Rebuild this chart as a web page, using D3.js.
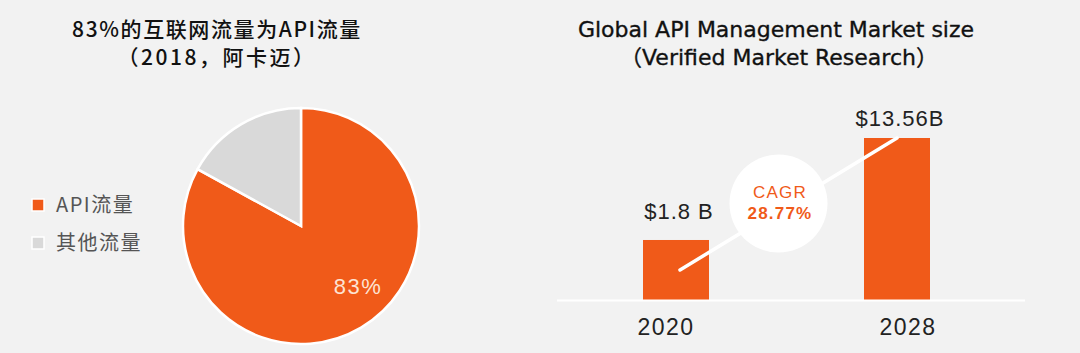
<!DOCTYPE html>
<html lang="zh">
<head>
<meta charset="UTF-8">
<script src="https://cdnjs.cloudflare.com/ajax/libs/d3/7.8.5/d3.min.js"></script>
<style>
  body { margin: 0; background: #f2f2f2; }
  svg { display: block; }
  text { font-family: "Liberation Sans", "Noto Sans CJK SC", sans-serif; }
  .cjk { font-family: "Noto Sans CJK SC", "Liberation Sans", sans-serif; }
  .wide { font-family: "DejaVu Sans", "Noto Sans CJK SC", sans-serif; }
</style>
</head>
<body>
<svg width="1080" height="353"></svg>
<script>
  // pie data
  const shareNames = ['API流量', '其他流量'];
  const shareValues = [83, 17];
  const shareColors = ['#f05a19', '#d9d9d9'];

  // bar data
  const years = ['2020', '2028'];
  const marketValues = [1.8, 13.56];
  const marketLabels = ['$1.8 B', '$13.56B'];
  const cagrLines = ['CAGR', '28.77%'];

  const orange = '#f05a19';
  const svg = d3.select('svg');

  // ---- left: pie ----
  svg.append('text').attr('class', 'cjk')
    .attr('x', 217).attr('y', 37).attr('text-anchor', 'middle')
    .attr('font-size', 21).attr('font-weight', 500).attr('fill', '#111')
    .attr('letter-spacing', 1.6)
    .text('83%的互联网流量为API流量');
  svg.append('text').attr('class', 'cjk')
    .attr('x', 217).attr('y', 65).attr('text-anchor', 'middle')
    .attr('font-size', 21).attr('font-weight', 500).attr('fill', '#111')
    .attr('letter-spacing', 2.5)
    .text('（2018，阿卡迈）');

  const pieData = d3.pie().sort(null)(shareValues);
  const radius = 118;
  const arc = d3.arc().innerRadius(0).outerRadius(radius);
  const pieG = svg.append('g').attr('transform', 'translate(301,226)');

  pieG.selectAll('path')
    .data(pieData)
    .enter().append('path')
    .attr('d', arc)
    .attr('fill', (d, i) => shareColors[i])
    .attr('stroke', '#fff')
    .attr('stroke-width', 2.5);

  pieG.append('text')
    .attr('x', 57).attr('y', 68).attr('text-anchor', 'middle')
    .attr('font-size', 22).attr('fill', '#fde3d2')
    .attr('letter-spacing', 1.5)
    .text(shareValues[0] + '%');

  const legend = svg.append('g').attr('transform', 'translate(32,199)');
  const legendItems = legend.selectAll('g')
    .data(shareNames)
    .enter().append('g')
    .attr('transform', (d, i) => `translate(0, ${i * 38})`);
  legendItems.append('rect')
    .attr('width', 12).attr('height', 12)
    .attr('fill', (d, i) => shareColors[i])
    .attr('stroke', '#fff').attr('stroke-width', 1.5);
  legendItems.append('text').attr('class', 'cjk')
    .attr('x', 24).attr('y', 13)
    .attr('font-size', 20).attr('fill', '#555')
    .attr('letter-spacing', 1.5)
    .text(d => d);

  // ---- right: bars ----
  svg.append('text').attr('class', 'wide')
    .attr('x', 776).attr('y', 37).attr('text-anchor', 'middle')
    .attr('font-size', 22).attr('fill', '#111')
    .attr('stroke', '#111').attr('stroke-width', 0.35)
    .text('Global API Management Market size');
  svg.append('text').attr('class', 'wide')
    .attr('x', 779).attr('y', 65).attr('text-anchor', 'middle')
    .attr('font-size', 22).attr('fill', '#111')
    .attr('stroke', '#111').attr('stroke-width', 0.35)
    .text('（Verified Market Research）');

  const barW = 66;
  const x = d3.scalePoint().domain(years).range([676, 897]);
  const y = d3.scaleLinear().domain([-5.12, 13.56]).range([300, 138]);

  svg.selectAll('rect.bar')
    .data(marketValues)
    .enter().append('rect')
    .attr('class', 'bar')
    .attr('x', (d, i) => x(years[i]) - barW / 2)
    .attr('y', d => y(d))
    .attr('width', barW)
    .attr('height', d => y(-5.12) - y(d))
    .attr('fill', orange);

  // base line
  svg.append('line')
    .attr('x1', 557).attr('x2', 1025)
    .attr('y1', y(-5.12) + 0.5).attr('y2', y(-5.12) + 0.5)
    .attr('stroke', '#fff').attr('stroke-width', 2);

  svg.selectAll('text.val')
    .data(marketLabels)
    .enter().append('text')
    .attr('class', 'val')
    .attr('x', (d, i) => x(years[i]) + 3)
    .attr('y', (d, i) => y(marketValues[i]) - (i === 0 ? 21 : 12))
    .attr('text-anchor', 'middle')
    .attr('font-size', 22).attr('fill', '#222')
    .attr('letter-spacing', 1)
    .text(d => d);

  svg.selectAll('text.year')
    .data(years)
    .enter().append('text')
    .attr('class', 'year')
    .attr('x', d => x(d) + (d === '2020' ? -10 : 11))
    .attr('y', 335)
    .attr('text-anchor', 'middle')
    .attr('font-size', 23).attr('fill', '#222')
    .attr('letter-spacing', 1.5)
    .text(d => d);

  // CAGR connector
  const p0 = [x(years[0]) + 4, y(marketValues[0]) + 30];
  const p1 = [x(years[1]), y(marketValues[1])];
  svg.append('line')
    .attr('x1', p0[0]).attr('y1', p0[1])
    .attr('x2', p1[0]).attr('y2', p1[1])
    .attr('stroke', '#fff').attr('stroke-width', 3.5)
    .attr('stroke-linecap', 'round');

  const cx = (x(years[0]) + x(years[1])) / 2 - 8;
  const cy = 203.5;
  svg.append('circle')
    .attr('cx', cx).attr('cy', cy).attr('r', 49)
    .attr('fill', '#fff');
  svg.selectAll('text.cagr')
    .data(cagrLines)
    .enter().append('text')
    .attr('class', 'cagr')
    .attr('x', cx + 1.5)
    .attr('y', (d, i) => cy - 6 + i * 21)
    .attr('text-anchor', 'middle')
    .attr('font-size', 17)
    .attr('font-weight', (d, i) => i === 1 ? 'bold' : 'normal')
    .attr('fill', orange)
    .attr('letter-spacing', 1.2)
    .text(d => d);
</script>
</body>
</html>
